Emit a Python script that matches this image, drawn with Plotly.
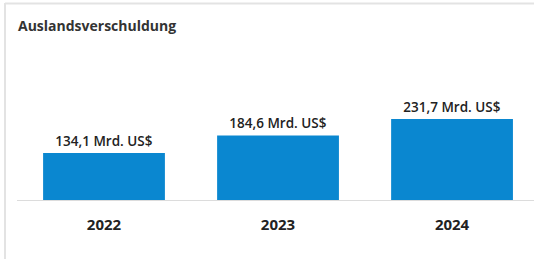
import plotly.graph_objects as go

years = ["2022", "2023", "2024"]
values = [134.1, 184.6, 231.7]
labels = ["134,1 Mrd. US$", "184,6 Mrd. US$", "231,7 Mrd. US$"]
title_text = "Auslandsverschuldung"

W, H = 534, 259
L, R, T, B = 17, 0, 60, 59
pw = W - L - R

fig = go.Figure(go.Bar(
    x=years, y=values, text=labels, textposition="outside",
    textfont=dict(family="Open Sans", size=13.5, color="#222222", weight=600),
    marker=dict(color="#0a87d0", line=dict(width=0)),
    cliponaxis=False, hoverinfo="skip",
))

def px2paper(x):
    return (x - L) / pw

def py2paper(y):
    return (H - B - y) / (H - T - B)

fig.update_layout(
    width=W, height=H,
    margin=dict(l=L, r=R, t=T, b=B),
    paper_bgcolor="white", plot_bgcolor="white",
    bargap=0.3, showlegend=False,
    xaxis=dict(range=[-0.5, 2.471], showgrid=False, zeroline=False,
               showline=True, linecolor="#dcdcdc", linewidth=1,
               ticks="", tickfont=dict(family="Open Sans", size=15, color="#222222", weight=700),
               ticklabelstandoff=11, fixedrange=True),
    yaxis=dict(range=[0, 400], visible=False, fixedrange=True),
    annotations=[dict(text=title_text, xref="paper", yref="paper",
                      x=px2paper(16), y=py2paper(25), xanchor="left", yanchor="middle",
                      showarrow=False,
                      font=dict(family="Open Sans", size=14, color="#333333", weight=700))],
    shapes=[
        dict(type="line", xref="paper", yref="paper",
             x0=px2paper(5), x1=px2paper(534), y0=py2paper(3.5), y1=py2paper(3.5),
             line=dict(color="#e3e3e3", width=2)),
        dict(type="line", xref="paper", yref="paper",
             x0=px2paper(5), x1=px2paper(5), y0=py2paper(3), y1=py2paper(259),
             line=dict(color="#e3e3e3", width=2)),
    ],
)

fig.write_html("out.html", config={"displayModeBar": False},
               post_script="document.body.style.margin='0';document.body.style.overflow='hidden';")
